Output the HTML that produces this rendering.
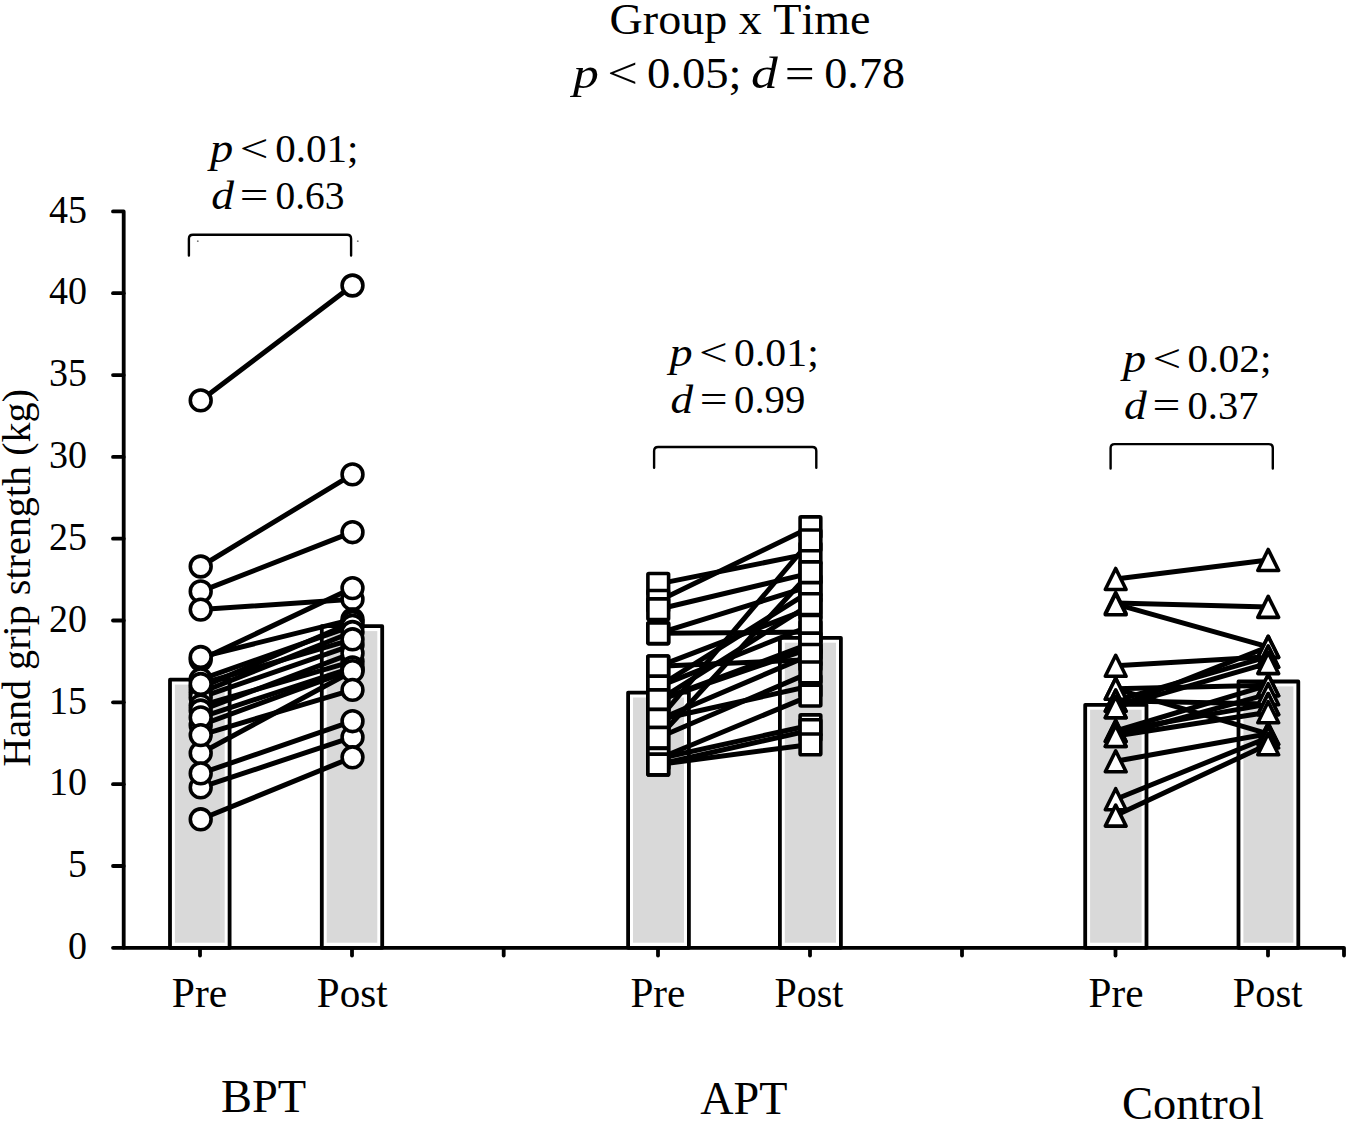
<!DOCTYPE html><html><head><meta charset="utf-8"><style>
html,body{margin:0;padding:0;background:#fff;width:1350px;height:1121px;overflow:hidden}
svg{display:block}
text{font-family:"Liberation Serif",serif;fill:#000;font-kerning:none}
.i{font-style:italic}
</style></head><body>
<svg width="1350" height="1121" viewBox="0 0 1350 1121">
<rect x="170.0" y="679.7" width="59.6" height="268.1" fill="#fff" stroke="#000" stroke-width="3.8" stroke-linejoin="round"/>
<rect x="174.9" y="684.6" width="49.8" height="258.1" fill="#d9d9d9"/>
<rect x="321.8" y="626.2" width="60.4" height="321.6" fill="#fff" stroke="#000" stroke-width="3.8" stroke-linejoin="round"/>
<rect x="326.7" y="631.1" width="50.6" height="311.6" fill="#d9d9d9"/>
<rect x="628.1" y="692.6" width="60.8" height="255.2" fill="#fff" stroke="#000" stroke-width="3.8" stroke-linejoin="round"/>
<rect x="633.0" y="697.5" width="51.0" height="245.2" fill="#d9d9d9"/>
<rect x="779.9" y="637.8" width="61.0" height="310.0" fill="#fff" stroke="#000" stroke-width="3.8" stroke-linejoin="round"/>
<rect x="784.8" y="642.7" width="51.2" height="300.0" fill="#d9d9d9"/>
<rect x="1085.2" y="704.8" width="61.3" height="243.0" fill="#fff" stroke="#000" stroke-width="3.8" stroke-linejoin="round"/>
<rect x="1090.1" y="709.7" width="51.5" height="233.0" fill="#d9d9d9"/>
<rect x="1238.5" y="681.5" width="59.8" height="266.3" fill="#fff" stroke="#000" stroke-width="3.8" stroke-linejoin="round"/>
<rect x="1243.4" y="686.4" width="50.0" height="256.3" fill="#d9d9d9"/>
<g stroke="#000" stroke-width="3.8" stroke-linecap="round" stroke-linejoin="round" fill="none">
<path d="M113 211.4 L123.7 211.4 L123.7 947.8 L1344 947.8 L1344 955.5"/>
<path d="M113 947.8 H123.7"/>
<path d="M113 866.0 H123.7"/>
<path d="M113 784.2 H123.7"/>
<path d="M113 702.3 H123.7"/>
<path d="M113 620.5 H123.7"/>
<path d="M113 538.7 H123.7"/>
<path d="M113 456.9 H123.7"/>
<path d="M113 375.1 H123.7"/>
<path d="M113 293.2 H123.7"/>
<path d="M200.0 947.8 V955.5"/>
<path d="M352.0 947.8 V955.5"/>
<path d="M503.7 947.8 V955.5"/>
<path d="M658.0 947.8 V955.5"/>
<path d="M810.0 947.8 V955.5"/>
<path d="M962.0 947.8 V955.5"/>
<path d="M1115.5 947.8 V955.5"/>
<path d="M1268.0 947.8 V955.5"/>
</g>
<path d="M188.9 255.6 L188.9 238.8 Q188.9 234.8 192.9 234.8 L347.1 234.8 Q351.1 234.8 351.1 238.8 L351.1 255.6" fill="none" stroke="#000" stroke-width="2.4" stroke-linecap="round"/>
<circle cx="197.8" cy="241.2" r="0.9" fill="#777"/><circle cx="357.8" cy="241.2" r="0.9" fill="#777"/>
<path d="M654.1 467.8 L654.1 451.0 Q654.1 447.0 658.1 447.0 L812.3 447.0 Q816.3 447.0 816.3 451.0 L816.3 467.8" fill="none" stroke="#000" stroke-width="2.4" stroke-linecap="round"/>
<path d="M1110.6 468.5 L1110.6 448.1 Q1110.6 444.1 1114.6 444.1 L1268.8 444.1 Q1272.8 444.1 1272.8 448.1 L1272.8 468.5" fill="none" stroke="#000" stroke-width="2.4" stroke-linecap="round"/>
<g stroke="#000" stroke-width="5.0" stroke-linecap="round" fill="none"><path d="M200.7 400.4 L352.5 285.5"/><path d="M200.7 566.5 L352.5 474.4"/><path d="M200.7 591.4 L352.5 532.2"/><path d="M200.7 609.6 L352.5 599.2"/><path d="M200.7 659.8 L352.5 588.1"/><path d="M200.7 657.0 L352.5 619.4"/><path d="M200.7 687.6 L352.5 622.2"/><path d="M200.7 679.4 L352.5 625.8"/><path d="M200.7 692.5 L352.5 632.0"/><path d="M200.7 697.4 L352.5 645.1"/><path d="M200.7 705.6 L352.5 661.4"/><path d="M200.7 710.5 L352.5 653.2"/><path d="M200.7 684.0 L352.5 639.3"/><path d="M200.7 725.2 L352.5 669.6"/><path d="M200.7 717.4 L352.5 667.5"/><path d="M200.7 753.2 L352.5 671.2"/><path d="M200.7 735.1 L352.5 689.9"/><path d="M200.7 787.4 L352.5 737.2"/><path d="M200.7 773.4 L352.5 721.2"/><path d="M200.7 819.3 L352.5 757.3"/></g>
<g stroke="#000" stroke-width="5.0" stroke-linecap="round" fill="none"><path d="M658.3 583.9 L810.5 553.4"/><path d="M658.3 600.9 L810.5 527.2"/><path d="M658.3 609.2 L810.5 573.1"/><path d="M658.3 633.3 L810.5 586.2"/><path d="M658.3 633.3 L810.5 632.0"/><path d="M658.3 666.3 L810.5 608.2"/><path d="M658.3 666.3 L810.5 659.8"/><path d="M658.3 686.6 L810.5 591.1"/><path d="M658.3 686.6 L810.5 625.8"/><path d="M658.3 700.4 L810.5 604.2"/><path d="M658.3 700.4 L810.5 648.3"/><path d="M658.3 700.4 L810.5 643.4"/><path d="M658.3 719.8 L810.5 540.3"/><path d="M658.3 719.8 L810.5 654.9"/><path d="M658.3 719.8 L810.5 686.0"/><path d="M658.3 737.8 L810.5 572.2"/><path d="M658.3 737.8 L810.5 672.4"/><path d="M658.3 758.8 L810.5 695.6"/><path d="M658.3 758.8 L810.5 725.2"/><path d="M658.3 764.5 L810.5 730.2"/><path d="M658.3 764.5 L810.5 744.4"/></g>
<g stroke="#000" stroke-width="5.0" stroke-linecap="round" fill="none"><path d="M1115.7 579.0 L1268.2 560.0"/><path d="M1115.7 603.0 L1268.2 606.9"/><path d="M1115.7 604.2 L1268.2 646.9"/><path d="M1115.7 665.8 L1268.2 656.7"/><path d="M1115.7 688.8 L1268.2 685.2"/><path d="M1115.7 688.8 L1268.2 733.8"/><path d="M1115.7 700.7 L1268.2 656.7"/><path d="M1115.7 700.7 L1268.2 704.1"/><path d="M1115.7 707.2 L1268.2 663.1"/><path d="M1115.7 707.2 L1268.2 646.9"/><path d="M1115.7 731.0 L1268.2 685.2"/><path d="M1115.7 731.0 L1268.2 704.1"/><path d="M1115.7 736.0 L1268.2 694.2"/><path d="M1115.7 736.0 L1268.2 712.2"/><path d="M1115.7 761.3 L1268.2 733.8"/><path d="M1115.7 799.2 L1268.2 737.5"/><path d="M1115.7 815.6 L1268.2 744.2"/></g>
<g fill="#fff" stroke="#000" stroke-width="3.6" stroke-linejoin="round"><circle cx="200.7" cy="400.4" r="10.4"/><circle cx="200.7" cy="566.5" r="10.4"/><circle cx="200.7" cy="591.4" r="10.4"/><circle cx="200.7" cy="609.6" r="10.4"/><circle cx="200.7" cy="659.8" r="10.4"/><circle cx="200.7" cy="657.0" r="10.4"/><circle cx="200.7" cy="687.6" r="10.4"/><circle cx="200.7" cy="679.4" r="10.4"/><circle cx="200.7" cy="692.5" r="10.4"/><circle cx="200.7" cy="697.4" r="10.4"/><circle cx="200.7" cy="705.6" r="10.4"/><circle cx="200.7" cy="710.5" r="10.4"/><circle cx="200.7" cy="684.0" r="10.4"/><circle cx="200.7" cy="725.2" r="10.4"/><circle cx="200.7" cy="717.4" r="10.4"/><circle cx="200.7" cy="753.2" r="10.4"/><circle cx="200.7" cy="735.1" r="10.4"/><circle cx="200.7" cy="787.4" r="10.4"/><circle cx="200.7" cy="773.4" r="10.4"/><circle cx="200.7" cy="819.3" r="10.4"/><circle cx="352.5" cy="285.5" r="10.4"/><circle cx="352.5" cy="474.4" r="10.4"/><circle cx="352.5" cy="532.2" r="10.4"/><circle cx="352.5" cy="599.2" r="10.4"/><circle cx="352.5" cy="588.1" r="10.4"/><circle cx="352.5" cy="619.4" r="10.4"/><circle cx="352.5" cy="622.2" r="10.4"/><circle cx="352.5" cy="625.8" r="10.4"/><circle cx="352.5" cy="632.0" r="10.4"/><circle cx="352.5" cy="645.1" r="10.4"/><circle cx="352.5" cy="661.4" r="10.4"/><circle cx="352.5" cy="653.2" r="10.4"/><circle cx="352.5" cy="639.3" r="10.4"/><circle cx="352.5" cy="669.6" r="10.4"/><circle cx="352.5" cy="667.5" r="10.4"/><circle cx="352.5" cy="671.2" r="10.4"/><circle cx="352.5" cy="689.9" r="10.4"/><circle cx="352.5" cy="737.2" r="10.4"/><circle cx="352.5" cy="721.2" r="10.4"/><circle cx="352.5" cy="757.3" r="10.4"/></g>
<g fill="#fff" stroke="#000" stroke-width="3.6" stroke-linejoin="round"><rect x="647.9" y="573.5" width="20.7" height="20.7" rx="1"/><rect x="647.9" y="590.5" width="20.7" height="20.7" rx="1"/><rect x="647.9" y="598.9" width="20.7" height="20.7" rx="1"/><rect x="647.9" y="622.9" width="20.7" height="20.7" rx="1"/><rect x="647.9" y="622.9" width="20.7" height="20.7" rx="1"/><rect x="647.9" y="656.0" width="20.7" height="20.7" rx="1"/><rect x="647.9" y="656.0" width="20.7" height="20.7" rx="1"/><rect x="647.9" y="676.3" width="20.7" height="20.7" rx="1"/><rect x="647.9" y="676.3" width="20.7" height="20.7" rx="1"/><rect x="647.9" y="690.0" width="20.7" height="20.7" rx="1"/><rect x="647.9" y="690.0" width="20.7" height="20.7" rx="1"/><rect x="647.9" y="690.0" width="20.7" height="20.7" rx="1"/><rect x="647.9" y="709.5" width="20.7" height="20.7" rx="1"/><rect x="647.9" y="709.5" width="20.7" height="20.7" rx="1"/><rect x="647.9" y="709.5" width="20.7" height="20.7" rx="1"/><rect x="647.9" y="727.5" width="20.7" height="20.7" rx="1"/><rect x="647.9" y="727.5" width="20.7" height="20.7" rx="1"/><rect x="647.9" y="748.4" width="20.7" height="20.7" rx="1"/><rect x="647.9" y="748.4" width="20.7" height="20.7" rx="1"/><rect x="647.9" y="754.2" width="20.7" height="20.7" rx="1"/><rect x="647.9" y="754.2" width="20.7" height="20.7" rx="1"/><rect x="800.1" y="543.1" width="20.7" height="20.7" rx="1"/><rect x="800.1" y="516.9" width="20.7" height="20.7" rx="1"/><rect x="800.1" y="562.7" width="20.7" height="20.7" rx="1"/><rect x="800.1" y="575.8" width="20.7" height="20.7" rx="1"/><rect x="800.1" y="621.6" width="20.7" height="20.7" rx="1"/><rect x="800.1" y="597.9" width="20.7" height="20.7" rx="1"/><rect x="800.1" y="649.4" width="20.7" height="20.7" rx="1"/><rect x="800.1" y="580.7" width="20.7" height="20.7" rx="1"/><rect x="800.1" y="615.4" width="20.7" height="20.7" rx="1"/><rect x="800.1" y="593.8" width="20.7" height="20.7" rx="1"/><rect x="800.1" y="638.0" width="20.7" height="20.7" rx="1"/><rect x="800.1" y="633.1" width="20.7" height="20.7" rx="1"/><rect x="800.1" y="530.0" width="20.7" height="20.7" rx="1"/><rect x="800.1" y="644.5" width="20.7" height="20.7" rx="1"/><rect x="800.1" y="675.6" width="20.7" height="20.7" rx="1"/><rect x="800.1" y="561.9" width="20.7" height="20.7" rx="1"/><rect x="800.1" y="662.0" width="20.7" height="20.7" rx="1"/><rect x="800.1" y="685.3" width="20.7" height="20.7" rx="1"/><rect x="800.1" y="714.9" width="20.7" height="20.7" rx="1"/><rect x="800.1" y="719.8" width="20.7" height="20.7" rx="1"/><rect x="800.1" y="734.0" width="20.7" height="20.7" rx="1"/></g>
<g fill="#fff" stroke="#000" stroke-width="3.6" stroke-linejoin="round"><path d="M1115.7 568.5 L1126.1 589.5 L1105.3 589.5 Z"/><path d="M1115.7 592.5 L1126.1 613.5 L1105.3 613.5 Z"/><path d="M1115.7 593.7 L1126.1 614.7 L1105.3 614.7 Z"/><path d="M1115.7 655.3 L1126.1 676.3 L1105.3 676.3 Z"/><path d="M1115.7 678.3 L1126.1 699.3 L1105.3 699.3 Z"/><path d="M1115.7 678.3 L1126.1 699.3 L1105.3 699.3 Z"/><path d="M1115.7 690.2 L1126.1 711.2 L1105.3 711.2 Z"/><path d="M1115.7 690.2 L1126.1 711.2 L1105.3 711.2 Z"/><path d="M1115.7 696.7 L1126.1 717.7 L1105.3 717.7 Z"/><path d="M1115.7 696.7 L1126.1 717.7 L1105.3 717.7 Z"/><path d="M1115.7 720.5 L1126.1 741.5 L1105.3 741.5 Z"/><path d="M1115.7 720.5 L1126.1 741.5 L1105.3 741.5 Z"/><path d="M1115.7 725.5 L1126.1 746.5 L1105.3 746.5 Z"/><path d="M1115.7 725.5 L1126.1 746.5 L1105.3 746.5 Z"/><path d="M1115.7 750.8 L1126.1 771.8 L1105.3 771.8 Z"/><path d="M1115.7 788.7 L1126.1 809.7 L1105.3 809.7 Z"/><path d="M1115.7 805.1 L1126.1 826.1 L1105.3 826.1 Z"/><path d="M1268.2 549.5 L1278.6 570.5 L1257.8 570.5 Z"/><path d="M1268.2 596.4 L1278.6 617.4 L1257.8 617.4 Z"/><path d="M1268.2 636.4 L1278.6 657.4 L1257.8 657.4 Z"/><path d="M1268.2 636.4 L1278.6 657.4 L1257.8 657.4 Z"/><path d="M1268.2 646.2 L1278.6 667.2 L1257.8 667.2 Z"/><path d="M1268.2 646.2 L1278.6 667.2 L1257.8 667.2 Z"/><path d="M1268.2 652.6 L1278.6 673.6 L1257.8 673.6 Z"/><path d="M1268.2 674.7 L1278.6 695.7 L1257.8 695.7 Z"/><path d="M1268.2 674.7 L1278.6 695.7 L1257.8 695.7 Z"/><path d="M1268.2 683.7 L1278.6 704.7 L1257.8 704.7 Z"/><path d="M1268.2 693.6 L1278.6 714.6 L1257.8 714.6 Z"/><path d="M1268.2 693.6 L1278.6 714.6 L1257.8 714.6 Z"/><path d="M1268.2 701.7 L1278.6 722.7 L1257.8 722.7 Z"/><path d="M1268.2 723.3 L1278.6 744.3 L1257.8 744.3 Z"/><path d="M1268.2 723.3 L1278.6 744.3 L1257.8 744.3 Z"/><path d="M1268.2 727.0 L1278.6 748.0 L1257.8 748.0 Z"/><path d="M1268.2 733.7 L1278.6 754.7 L1257.8 754.7 Z"/></g>
<text font-size="40" transform="translate(85.6,959.00) scale(0.95,1)" x="-18.48" y="0">0</text>
<text font-size="40" transform="translate(85.6,877.18) scale(0.95,1)" x="-18.44" y="0">5</text>
<text font-size="40" transform="translate(85.6,795.36) scale(0.95,1)" x="-38.48" y="0">10</text>
<text font-size="40" transform="translate(85.6,713.54) scale(0.95,1)" x="-38.44" y="0">15</text>
<text font-size="40" transform="translate(85.6,631.72) scale(0.95,1)" x="-38.48" y="0">20</text>
<text font-size="40" transform="translate(85.6,549.90) scale(0.95,1)" x="-38.44" y="0">25</text>
<text font-size="40" transform="translate(85.6,468.08) scale(0.95,1)" x="-38.48" y="0">30</text>
<text font-size="40" transform="translate(85.6,386.26) scale(0.95,1)" x="-38.44" y="0">35</text>
<text font-size="40" transform="translate(85.6,304.44) scale(0.95,1)" x="-38.48" y="0">40</text>
<text font-size="40" transform="translate(85.6,222.62) scale(0.95,1)" x="-38.44" y="0">45</text>
<text font-size="40" transform="translate(30.00,765.70) rotate(-90) scale(1.0036,1)" x="-1.15" y="0">Hand grip strength (kg)</text>
<text font-size="41.5" transform="translate(173.00,1007.30) scale(1.0022,1)" x="-1.20" y="0">Pre</text>
<text font-size="41.5" transform="translate(318.00,1007.30) scale(0.9890,1)" x="-1.20" y="0">Post</text>
<text font-size="41.5" transform="translate(631.60,1007.30) scale(0.9946,1)" x="-1.20" y="0">Pre</text>
<text font-size="41.5" transform="translate(775.60,1007.30) scale(0.9633,1)" x="-1.20" y="0">Post</text>
<text font-size="41.5" transform="translate(1089.80,1007.30) scale(0.9946,1)" x="-1.20" y="0">Pre</text>
<text font-size="41.5" transform="translate(1233.80,1007.30) scale(0.9761,1)" x="-1.20" y="0">Post</text>
<text font-size="46" transform="translate(222.30,1112.00) scale(1.0100,1)" x="-1.33" y="0">BPT</text>
<text font-size="46" transform="translate(700.60,1114.20) scale(1.0036,1)" x="-0.45" y="0">APT</text>
<text font-size="46" transform="translate(1123.90,1118.50) scale(1.0098,1)" x="-1.89" y="0">Control</text>
<text font-size="45" transform="translate(611.50,34.00) scale(1.0233,1)" x="-1.85" y="0">Group x Time</text>
<text class="i" font-size="45" transform="translate(570.00,88.30) scale(1.1483,1)" x="2.64" y="0">p</text>
<text font-size="45" transform="translate(610.00,88.30) scale(1.2082,1)" x="-2.24" y="0">&lt;</text>
<text font-size="45" transform="translate(648.70,88.30) scale(1.0373,1)" x="-1.71" y="0">0.05;</text>
<text class="i" font-size="45" transform="translate(752.70,88.30) scale(1.1907,1)" x="-1.36" y="0">d</text>
<text font-size="45" transform="translate(787.30,88.30) scale(1.1796,1)" x="-2.24" y="0">=</text>
<text font-size="45" transform="translate(826.00,88.30) scale(1.0263,1)" x="-1.71" y="0">0.78</text>
<text class="i" font-size="40" transform="translate(207.40,162.20) scale(1.1593,1)" x="2.34" y="0">p</text><text font-size="40" transform="translate(242.20,162.20) scale(1.2733,1)" x="-1.99" y="0">&lt;</text><text font-size="40" transform="translate(276.70,162.20) scale(1.0271,1)" x="-1.52" y="0">0.01;</text><text class="i" font-size="40" transform="translate(212.60,208.90) scale(1.1384,1)" x="-1.21" y="0">d</text><text font-size="40" transform="translate(242.20,208.90) scale(1.2733,1)" x="-1.99" y="0">=</text><text font-size="40" transform="translate(277.00,208.90) scale(0.9863,1)" x="-1.52" y="0">0.63</text>
<text class="i" font-size="40" transform="translate(666.70,365.60) scale(1.1546,1)" x="2.34" y="0">p</text><text font-size="40" transform="translate(701.50,365.60) scale(1.2733,1)" x="-1.99" y="0">&lt;</text><text font-size="40" transform="translate(735.60,365.60) scale(1.0454,1)" x="-1.52" y="0">0.01;</text><text class="i" font-size="40" transform="translate(671.90,413.00) scale(1.1331,1)" x="-1.21" y="0">d</text><text font-size="40" transform="translate(702.20,413.00) scale(1.2357,1)" x="-1.99" y="0">=</text><text font-size="40" transform="translate(735.60,413.00) scale(1.0189,1)" x="-1.52" y="0">0.99</text>
<text class="i" font-size="40" transform="translate(1120.20,372.20) scale(1.1546,1)" x="2.34" y="0">p</text><text font-size="40" transform="translate(1155.00,372.20) scale(1.2733,1)" x="-1.99" y="0">&lt;</text><text font-size="40" transform="translate(1189.10,372.20) scale(1.0350,1)" x="-1.52" y="0">0.02;</text><text class="i" font-size="40" transform="translate(1125.40,418.90) scale(1.1384,1)" x="-1.21" y="0">d</text><text font-size="40" transform="translate(1155.00,418.90) scale(1.2357,1)" x="-1.99" y="0">=</text><text font-size="40" transform="translate(1189.10,418.90) scale(1.0115,1)" x="-1.52" y="0">0.37</text>
</svg></body></html>
